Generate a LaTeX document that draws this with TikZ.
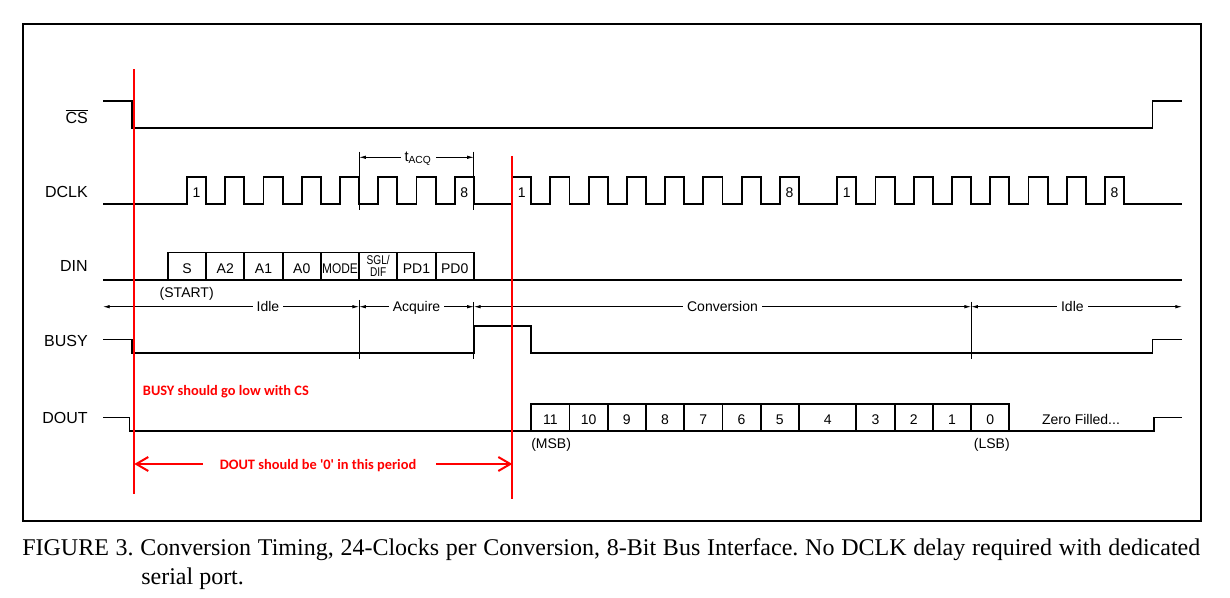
\documentclass[tikz,border=0pt]{standalone}
\usepackage{fontspec}
\setmainfont{Liberation Sans}
\newfontfamily\capfont{Liberation Serif}
\newfontfamily\notefont{Carlito}
\usetikzlibrary{arrows.meta}

\begin{document}
\begin{tikzpicture}[x=0.75pt,y=0.75pt,yscale=-1,xscale=1,
  sig/.style={line width=1.4pt},
  guide/.style={line width=0.6pt},
  marker/.style={draw=red, line width=1.6pt},
  phase/.style={guide, {Latex[length=5pt,width=2.6pt]}-{Latex[length=5pt,width=2.6pt]}},
  plabel/.style={fill=white, inner xsep=3pt, inner ysep=1pt, text height=7.5pt, text depth=0pt, font=\fontsize{10.5}{12}\selectfont},
  sname/.style={anchor=base east, inner sep=0pt, font=\fontsize{12}{14}\selectfont},
  bitlabel/.style={anchor=base, inner sep=0pt, font=\fontsize{10.5}{12}\selectfont},
  clklabel/.style={anchor=base, inner sep=0pt, font=\fontsize{10.5}{12}\selectfont},
  note/.style={inner sep=0pt, text=red, font=\notefont\bfseries\fontsize{10.8}{13}\selectfont},
  notearrow/.style={draw=red, line width=1.5pt, -{Straight Barb[length=9pt,width=10.5pt]}}]
\useasboundingbox (0,0) rectangle (1230,598);

% Frame
\draw [line width=1.8pt] (23,24) rectangle (1201,521);

% Signal names
\node [sname] (cs) at (88,123.3) {$\overline{\mbox{CS}}$};
\node [sname] (dclk) at (88,197.3) {DCLK};
\node [sname] (din) at (88,271.5) {DIN};
\node [sname] (busy) at (88,346.7) {BUSY};
\node [sname] (dout) at (88,423.3) {DOUT};

% CS
\draw [sig] (103,101) -| (132,128) -| (1152.5,101) -- (1182,101);

% DCLK, three bytes
\draw [sig] (103,204) -| (187,177) -| (206.13,204) -| (225.25,177) -| (244.38,204) -| (263.5,177) -| (282.63,204) -| (301.75,177) -| (320.88,204) -| (340,177) -| (359.13,204) -| (378.25,177) -| (397.38,204) -| (416.5,177) -| (435.63,204) -| (454.75,177) -| (473.88,204)
  -| (512.13,177) -| (531.25,204) -| (550.38,177) -| (569.5,204) -| (588.63,177) -| (607.75,204) -| (626.88,177) -| (646,204) -| (665.13,177) -| (684.25,204) -| (703.38,177) -| (722.5,204) -| (741.63,177) -| (760.75,204) -| (779.88,177) -| (799,204)
  -| (837.25,177) -| (856.38,204) -| (875.5,177) -| (894.63,204) -| (913.75,177) -| (932.88,204) -| (952,177) -| (971.13,204) -| (990.25,177) -| (1009.38,204) -| (1028.5,177) -| (1047.63,204) -| (1066.75,177) -| (1085.88,204) -| (1105,177) -| (1124.13,204) -- (1182,204);

% Text Node
\node [clklabel] (n1a) at (196.6,197.6) {1};
\node [clklabel] (n8a) at (464.3,197.6) {8};
\node [clklabel] (n1b) at (521.7,197.6) {1};
\node [clklabel] (n8b) at (789.4,197.6) {8};
\node [clklabel] (n1c) at (846.8,197.6) {1};
\node [clklabel] (n8c) at (1114.6,197.6) {8};

% tACQ
\coordinate (acq1) at (359.13,157.3);
\coordinate (acq2) at (473.88,157.3);
\draw [guide] (359.13,151.7) -- (359.13,210);
\draw [guide] (473.88,151.7) -- (473.88,210);
\draw [phase] (acq1) -- (acq2);
\node [fill=white, inner xsep=3pt, inner ysep=0pt, anchor=base, font=\fontsize{11}{12}\selectfont] (tacq) at (418,161.7) {t\textsubscript{ACQ}};

% DIN
\draw [sig] (103,280) -- (1182,280);
\draw [sig] (167.88,280) |- (473.88,252.5) -- (473.88,280);
\draw [sig] (206.13,252.5) -- (206.13,280) (244.38,252.5) -- (244.38,280) (282.63,252.5) -- (282.63,280) (320.88,252.5) -- (320.88,280) (359.13,252.5) -- (359.13,280) (397.38,252.5) -- (397.38,280) (435.63,252.5) -- (435.63,280);

% Text Node
\node [bitlabel] (bs) at (187,273.3) {S};
\node [bitlabel] (ba2) at (225.25,273.3) {A2};
\node [bitlabel] (ba1) at (263.5,273.3) {A1};
\node [bitlabel] (ba0) at (301.75,273.3) {A0};
\node [bitlabel] (bmode) at (340,273.3) {\scalebox{0.85}[1]{MODE}};
\node [bitlabel, font=\fontsize{9.5}{10}\selectfont] (bsgl) at (378.25,264.3) {\scalebox{0.8}[1]{SGL/}};
\node [bitlabel, font=\fontsize{9.5}{10}\selectfont] (bdif) at (378.25,276.7) {\scalebox{0.8}[1]{DIF}};
\node [bitlabel] (bpd1) at (416.5,273.3) {PD1};
\node [bitlabel] (bpd0) at (454.75,273.3) {PD0};
\node [bitlabel] (start) at (186.7,297.3) {(START)};

% Phases
\coordinate (ph0) at (103,306.7);
\coordinate (ph1) at (359.13,306.7);
\coordinate (ph2) at (473.88,306.7);
\coordinate (ph3) at (971.13,306.7);
\coordinate (ph4) at (1182,306.7);
\draw [phase] (ph0) -- node [plabel, pos=0.644] (idle1) {Idle} (ph1);
\draw [phase] (ph1) -- node [plabel] (acquire) {Acquire} (ph2);
\draw [phase] (ph2) -- node [plabel] (conversion) {Conversion} (ph3);
\draw [phase] (ph3) -- node [plabel, pos=0.48] (idle2) {Idle} (ph4);
\draw [guide] (359.13,300) -- (359.13,359);
\draw [guide] (473.88,302) -- (473.88,359);
\draw [guide] (971.13,301.7) -- (971.13,359.3);

% BUSY
\draw [sig] (103,339.5) -| (132,353) -| (473.88,326) -| (531.25,353) -| (1152.5,339.5) -- (1182,339.5);

% DOUT
\draw [sig] (103,417.5) -| (129.5,431) -- (1154,431) |- (1182,417.5);
\draw [sig] (531.25,431) |- (1009.38,404) -- (1009.38,431);
\draw [sig] (569.5,404) -- (569.5,431) (607.75,404) -- (607.75,431) (646,404) -- (646,431) (684.25,404) -- (684.25,431) (722.5,404) -- (722.5,431) (760.75,404) -- (760.75,431) (799,404) -- (799,431) (856.38,404) -- (856.38,431) (894.63,404) -- (894.63,431) (932.88,404) -- (932.88,431) (971.13,404) -- (971.13,431);

% Text Node
\node [bitlabel] (d11) at (550.38,424.3) {11};
\node [bitlabel] (d10) at (588.63,424.3) {10};
\node [bitlabel] (d9) at (626.88,424.3) {9};
\node [bitlabel] (d8) at (665.13,424.3) {8};
\node [bitlabel] (d7) at (703.38,424.3) {7};
\node [bitlabel] (d6) at (741.63,424.3) {6};
\node [bitlabel] (d5) at (779.88,424.3) {5};
\node [bitlabel] (d4) at (827.69,424.3) {4};
\node [bitlabel] (d3) at (875.5,424.3) {3};
\node [bitlabel] (d2) at (913.75,424.3) {2};
\node [bitlabel] (d1) at (952,424.3) {1};
\node [bitlabel] (d0) at (990.25,424.3) {0};
\node [bitlabel, anchor=base west] (msb) at (531,448.3) {(MSB)};
\node [bitlabel, anchor=base east] (lsb) at (1010,448.3) {(LSB)};
\node [bitlabel] (zero) at (1081,424.3) {Zero Filled...};

% Red markers
\coordinate (m1t) at (134.3,69.3);
\coordinate (m1b) at (134.3,494);
\coordinate (m2t) at (512.3,156);
\coordinate (m2b) at (512.3,499);
\draw [marker] (m1t) -- (m1b);
\draw [marker] (m2t) -- (m2b);

% Red notes
\node [note, anchor=base west] (busynote) at (142.7,395.7) {BUSY should go low with CS};
\node [note, anchor=base] (doutnote) at (318,469.3) {DOUT should be \textquotesingle0\textquotesingle{} in this period};
\coordinate (nl) at (202.7,464);
\coordinate (nr) at (436,464);
\coordinate (m1a) at (134.3,464);
\coordinate (m2a) at (512.3,464);
\draw [notearrow] (nl) -- (m1a);
\draw [notearrow] (nr) -- (m2a);

% Caption
\node [anchor=base west, inner sep=0pt, font=\capfont\fontsize{18}{21}\selectfont] (cap1) at (22,555) {\frenchspacing\makebox[883.5pt][s]{FIGURE 3. Conversion Timing, 24-Clocks per Conversion, 8-Bit Bus Interface. No DCLK delay required with dedicated}};
\node [anchor=base west, inner sep=0pt, font=\capfont\fontsize{18}{21}\selectfont] (cap2) at (141,584) {serial port.};

\end{tikzpicture}
\end{document}
